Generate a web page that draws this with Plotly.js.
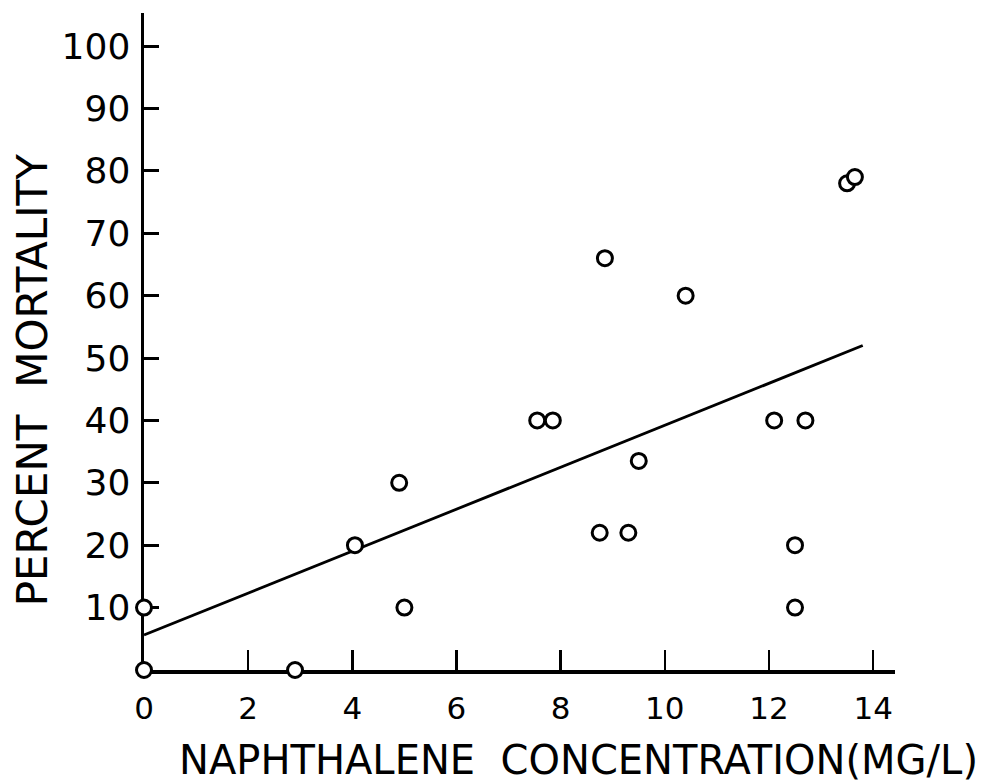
<!DOCTYPE html>
<html>
<head>
<meta charset="utf-8">
<script src="https://cdn.plot.ly/plotly-3.0.1.min.js"></script>
<style>
  html, body { margin: 0; padding: 0; background: #ffffff; }
  #chart { width: 981px; height: 783px; }
</style>
</head>
<body>
<div id="chart"></div>
<script>
// Observed data: naphthalene concentration (mg/L) vs percent mortality
var concentration = [0, 0, 2.9, 4.05, 4.9, 5.0, 7.55, 7.85, 8.75, 9.3, 9.5, 8.85, 10.4, 12.1, 12.7, 12.5, 12.5, 13.5, 13.65];
var mortality     = [10, 0, 0, 20, 30, 10, 40, 40, 22, 22, 33.5, 66, 60, 40, 40, 20, 10, 78, 79];

// Fitted regression line end points
var fitX = [0, 13.8];
var fitY = [5.6, 52];

// Tick values and labels
var xTicks = [0, 2, 4, 6, 8, 10, 12, 14];
var xTickLabels = ["0", "2", "4", "6", "8", "10", "12", "14"];
var yTicks = [10, 20, 30, 40, 50, 60, 70, 80, 90, 100];
var yTickLabels = ["10", "20", "30", "40", "50", "60", "70", "80", "90", "100"];

var xTitle = "NAPHTHALENE\u00a0\u00a0CONCENTRATION(MG/L)";
var yTitle = "PERCENT\u00a0\u00a0MORTALITY";

var FONT = "DejaVu Sans, Liberation Sans, sans-serif";

var traces = [
  {
    x: fitX, y: fitY, mode: "lines", type: "scatter",
    line: { color: "#000000", width: 2.8 },
    hoverinfo: "skip", showlegend: false, cliponaxis: false
  },
  {
    x: concentration, y: mortality, mode: "markers", type: "scatter",
    marker: { symbol: "circle", size: 15, color: "#ffffff", line: { color: "#000000", width: 3 } },
    showlegend: false, cliponaxis: false
  }
];

var layout = {
  width: 981, height: 783,
  margin: { l: 144, r: 86, t: 13, b: 113 },
  paper_bgcolor: "#ffffff", plot_bgcolor: "#ffffff",
  showlegend: false,
  font: { family: FONT, color: "#000000" },
  xaxis: {
    range: [0, 14.42], automargin: false,
    showgrid: false, zeroline: false,
    showline: true, linecolor: "#000000", linewidth: 3.5,
    ticks: "inside", ticklen: 20, tickwidth: 2.5, tickcolor: "#000000",
    tickmode: "array", tickvals: xTicks, ticktext: xTickLabels,
    tickfont: { family: FONT, size: 31, color: "#000000" },
    ticklabelstandoff: 8,
    layer: "below traces"
  },
  yaxis: {
    range: [0, 105.3], automargin: false,
    showgrid: false, zeroline: false,
    showline: true, linecolor: "#000000", linewidth: 3.5,
    ticks: "inside", ticklen: 15, tickwidth: 3, tickcolor: "#000000",
    tickmode: "array", tickvals: yTicks, ticktext: yTickLabels,
    tickfont: { family: FONT, size: 36, color: "#000000" },
    ticklabelstandoff: 3,
    layer: "below traces"
  },
  annotations: [
    {
      text: xTitle, xref: "paper", yref: "paper",
      x: 0.578, y: -0.137, xanchor: "center", yanchor: "middle",
      showarrow: false, font: { family: FONT, size: 40, color: "#000000" }
    },
    {
      text: yTitle, xref: "paper", yref: "paper", textangle: -90,
      x: -0.149, y: 0.441, xanchor: "center", yanchor: "middle",
      showarrow: false, font: { family: FONT, size: 42, color: "#000000" }
    }
  ]
};

Plotly.newPlot("chart", traces, layout, { displayModeBar: false, staticPlot: true });
</script>
</body>
</html>
